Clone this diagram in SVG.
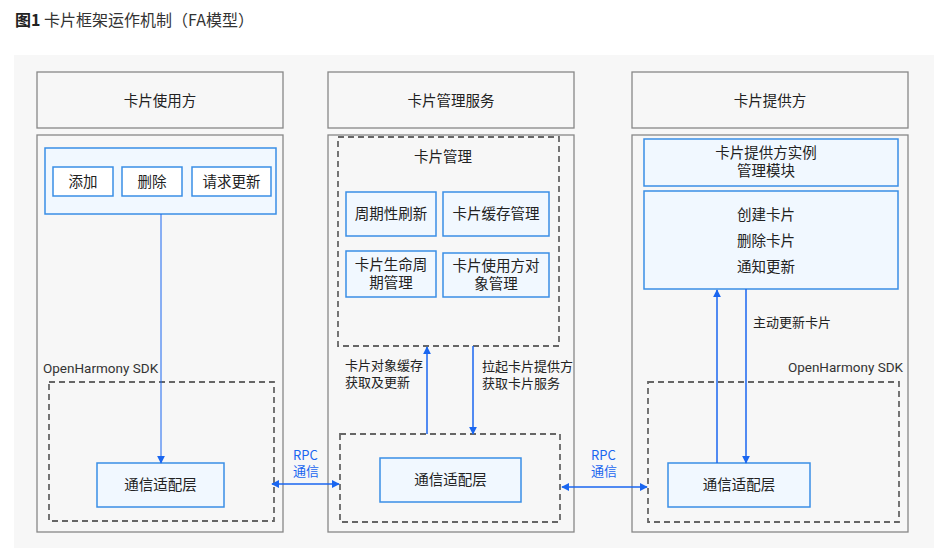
<svg xmlns="http://www.w3.org/2000/svg" width="940" height="560" viewBox="0 0 940 560">
<defs>
<style>
text{font-family:"Noto Sans CJK SC","Liberation Sans",sans-serif;font-size:14.5px;fill:#222}
.c{text-anchor:middle}
.s{font-size:13px}
.lat{font-family:Roboto,"Liberation Sans",sans-serif;font-size:13.5px;fill:#333}
.grey{fill:#f7f7f7;stroke:#888;stroke-width:1.3}
.dash{fill:none;stroke:#666;stroke-width:1.8;stroke-dasharray:6 4}
.blue{fill:#f1f8ff;stroke:#3a8ee6;stroke-width:1.5}
.btn{fill:#fff;stroke:#3a8ee6;stroke-width:1.5}
.ln{stroke:#1a66f0;stroke-width:1.5;fill:none}
.bt{fill:#1a66f0;font-size:13px}
</style>
<marker id="ah" viewBox="0 0 10 10" refX="9" refY="5" markerWidth="8" markerHeight="8" markerUnits="userSpaceOnUse" orient="auto-start-reverse">
<path d="M0,0 L10,5 L0,10 z" fill="#1a66f0"/>
</marker>
</defs>
<rect width="940" height="560" fill="#fff"/>
<text x="15" y="26" style="font-size:16px;fill:#333"><tspan font-weight="bold" fill="#222">图1</tspan> 卡片框架运作机制（FA模型）</text>
<rect x="14" y="55" width="920" height="493" fill="#f7f7f7"/>

<g id="user">
<rect class="grey" x="37" y="72" width="246" height="56"/>
<text class="c" x="160" y="106">卡片使用方</text>
<rect class="grey" x="37" y="135" width="246" height="397"/>
<rect class="blue" x="45" y="148" width="231" height="66"/>
<text class="lat" x="43" y="373">OpenHarmony SDK</text>
<rect class="dash" x="49" y="382" width="225" height="139"/>
</g>
<g id="btn-add"><rect class="btn" x="53" y="167" width="60" height="29"/><text class="c" x="83" y="187">添加</text></g>
<g id="btn-del"><rect class="btn" x="122" y="167" width="60" height="29"/><text class="c" x="152" y="187">删除</text></g>
<g id="btn-upd"><rect class="btn" x="192" y="167" width="79" height="29"/><text class="c" x="231.5" y="187">请求更新</text></g>
<g id="user-comm"><rect class="blue" x="97" y="463" width="127" height="44"/><text class="c" x="160.5" y="490">通信适配层</text></g>

<g id="service">
<rect class="grey" x="328" y="72" width="246" height="56"/>
<text class="c" x="451" y="106">卡片管理服务</text>
<rect class="grey" x="328" y="135" width="246" height="397"/>
<rect class="dash" x="338" y="137" width="221" height="209"/>
<text class="c" x="443" y="162">卡片管理</text>
<rect class="dash" x="340" y="434" width="220" height="88"/>
</g>
<g id="refresh"><rect class="blue" x="346" y="192" width="90" height="44"/><text class="c" x="391" y="219">周期性刷新</text></g>
<g id="cache"><rect class="blue" x="443" y="192" width="106" height="44"/><text class="c" x="496" y="219">卡片缓存管理</text></g>
<g id="life"><rect class="blue" x="346" y="251" width="90" height="46"/><text class="c" x="391" y="270">卡片生命周<tspan x="391" dy="18">期管理</tspan></text></g>
<g id="userobj"><rect class="blue" x="443" y="253" width="106" height="44"/><text class="c" x="496" y="271">卡片使用方对<tspan x="496" dy="18">象管理</tspan></text></g>
<g id="svc-comm"><rect class="blue" x="380" y="458" width="141" height="44"/><text class="c" x="450.5" y="485">通信适配层</text></g>

<g id="provider">
<rect class="grey" x="632" y="72" width="276" height="56"/>
<text class="c" x="770" y="106">卡片提供方</text>
<rect class="grey" x="632" y="135" width="276" height="397"/>
<text class="lat" x="903" y="372" text-anchor="end">OpenHarmony SDK</text>
<rect class="dash" x="648" y="382" width="251" height="140"/>
</g>
<g id="inst"><rect class="blue" x="644" y="139" width="254" height="47"/><text class="c" x="766" y="158">卡片提供方实例<tspan x="766" dy="18">管理模块</tspan></text></g>
<g id="ops"><rect class="blue" x="644" y="191" width="254" height="98"/><text class="c" x="766" y="220">创建卡片<tspan x="766" dy="26">删除卡片</tspan><tspan x="766" dy="26">通知更新</tspan></text></g>
<g id="prov-comm"><rect class="blue" x="668" y="463" width="142" height="44"/><text class="c" x="739" y="490">通信适配层</text></g>

<g id="connectors">
<line class="ln" x1="161" y1="214" x2="161" y2="463" marker-end="url(#ah)" style="stroke-width:1"/>
<line class="ln" x1="427" y1="434" x2="427" y2="347" marker-end="url(#ah)"/>
<line class="ln" x1="473" y1="346" x2="473" y2="434" marker-end="url(#ah)"/>
<text class="s" x="345" y="370">卡片对象缓存<tspan x="345" dy="17">获取及更新</tspan></text>
<text class="s" x="482" y="371">拉起卡片提供方<tspan x="482" dy="17">获取卡片服务</tspan></text>
<line class="ln" x1="272" y1="484" x2="339" y2="484" marker-start="url(#ah)" marker-end="url(#ah)"/>
<text class="bt" x="293" y="460">RPC<tspan x="293" dy="16">通信</tspan></text>
<line class="ln" x1="562" y1="487" x2="647" y2="487" marker-start="url(#ah)" marker-end="url(#ah)"/>
<text class="bt" x="591" y="460">RPC<tspan x="591" dy="16">通信</tspan></text>
<line class="ln" x1="717" y1="463" x2="717" y2="290" marker-end="url(#ah)"/>
<line class="ln" x1="746" y1="289" x2="746" y2="463" marker-end="url(#ah)"/>
<text class="s" x="753" y="327">主动更新卡片</text>
</g>
</svg>
